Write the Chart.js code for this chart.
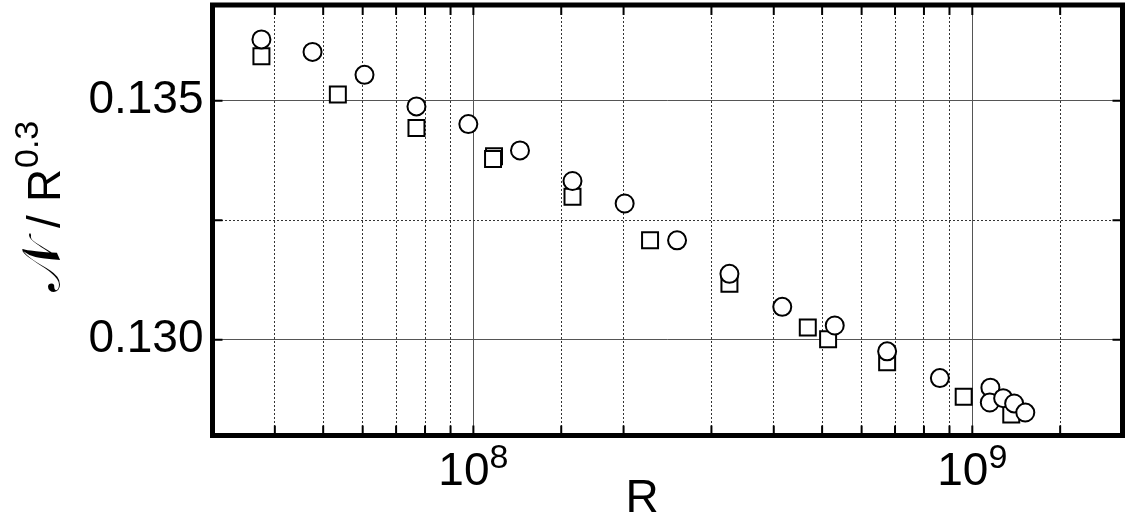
<!DOCTYPE html>
<html>
<head>
<meta charset="utf-8">
<title>N / R^0.3 vs R</title>
<script src="https://cdn.jsdelivr.net/npm/chart.js@4.4.1/dist/chart.umd.min.js"></script>
<style>
  html, body { margin: 0; padding: 0; background: #ffffff; }
  #wrap { width: 1127px; height: 518px; position: relative; }
</style>
</head>
<body>
<div id="wrap"><canvas id="chart-nusselt"></canvas></div>
<script>
/* ═══════════════════════════════════════════════════════════
   Compensated Nusselt number  N / R^0.3  against R (log axis)
   Two runs: open circles and open squares.
   ═══════════════════════════════════════════════════════════ */

// ─── DATA ────────────────────────────────────────────────
var circleR = [3.76e7, 4.76e7, 6.05e7, 7.69e7, 9.77e7, 1.24e8, 1.58e8, 2.01e8, 2.56e8,
               3.26e8, 4.16e8, 5.30e8, 6.75e8, 8.61e8, 1.087e9, 1.084e9, 1.153e9, 1.213e9, 1.277e9];
var circleN = [0.13628, 0.13602, 0.13554, 0.13488, 0.13451, 0.13396, 0.13332, 0.13285, 0.13208,
               0.13138, 0.13069, 0.13030, 0.12976, 0.12920, 0.12900, 0.12869, 0.12878, 0.12867, 0.12848];

var squareR = [3.76e7, 5.35e7, 7.69e7, 1.10e8, 1.095e8, 1.58e8, 2.26e8, 3.26e8, 4.68e8,
               5.14e8, 6.75e8, 9.61e8, 1.197e9];
var squareN = [0.13593, 0.13513, 0.13443, 0.13384, 0.13378, 0.13299, 0.13208, 0.13117, 0.13026,
               0.13001, 0.12953, 0.12881, 0.12844];

var xRange = [3e7, 2e9];
var yRange = [0.128, 0.137];
var yStep = 0.0025;
var yLabels = [{ value: 0.130, text: '0.130' }, { value: 0.135, text: '0.135' }];
var xLabels = [{ value: 1e8, base: '10', exp: '8' }, { value: 1e9, base: '10', exp: '9' }];

var FONT = '"Liberation Sans", Arial, Helvetica, sans-serif';

function toPoints(xs, ys) {
  return xs.map(function(x, i) { return { x: x, y: ys[i] }; });
}

function isMajorX(v) {
  var l = Math.log10(v);
  return Math.abs(l - Math.round(l)) < 1e-6;
}

function isMajorY(v) {
  return Math.abs(v / 0.005 - Math.round(v / 0.005)) < 1e-6;
}

// ─── FRAME, INNER TICKS AND TEXT ─────────────────────────
var framePlugin = {
  id: 'frame',
  afterDraw: function(chart) {
    var ctx = chart.ctx;
    var a = chart.chartArea;
    var xs = chart.scales.x;
    var ys = chart.scales.y;
    ctx.save();

    // inner tick marks on all four sides
    ctx.strokeStyle = '#000';
    ctx.lineWidth = 2;
    ctx.beginPath();
    xs.ticks.forEach(function(t) {
      var px = xs.getPixelForValue(t.value);
      if (px < a.left + 3 || px > a.right - 3) return;
      ctx.moveTo(px, a.bottom);
      ctx.lineTo(px, a.bottom - 10);
      ctx.moveTo(px, a.top);
      ctx.lineTo(px, a.top + 10);
    });
    ys.ticks.forEach(function(t) {
      var py = ys.getPixelForValue(t.value);
      if (py < a.top + 3 || py > a.bottom - 3) return;
      ctx.moveTo(a.left, py);
      ctx.lineTo(a.left + 10, py);
      ctx.moveTo(a.right, py);
      ctx.lineTo(a.right - 10, py);
    });
    ctx.stroke();

    // heavy frame
    ctx.lineWidth = 5;
    ctx.strokeRect(a.left, a.top, a.right - a.left, a.bottom - a.top);

    ctx.fillStyle = '#000';
    ctx.textBaseline = 'alphabetic';

    // y tick labels
    ctx.font = '46px ' + FONT;
    ctx.textAlign = 'right';
    yLabels.forEach(function(lb) {
      ctx.fillText(lb.text, a.left - 9, ys.getPixelForValue(lb.value) + 12);
    });

    // x tick labels with exponents
    xLabels.forEach(function(lb) {
      var px = xs.getPixelForValue(lb.value);
      ctx.font = '46px ' + FONT;
      var wb = ctx.measureText(lb.base).width;
      ctx.font = '34px ' + FONT;
      var we = ctx.measureText(lb.exp).width;
      var x0 = px - (wb + we) / 2;
      ctx.font = '46px ' + FONT;
      ctx.textAlign = 'left';
      ctx.fillText(lb.base, x0, 485);
      ctx.font = '34px ' + FONT;
      ctx.fillText(lb.exp, x0 + wb, 468);
    });

    // x axis title
    ctx.font = '46px ' + FONT;
    ctx.textAlign = 'center';
    ctx.fillText('R', 642, 512);

    // y axis title, rotated
    ctx.translate(60, 292);
    ctx.rotate(-Math.PI / 2);
    ctx.textAlign = 'left';
    ctx.font = '54px "DejaVu Serif", "DejaVu Sans", serif';
    ctx.fillText('\uD835\uDCA9', 0, 0);
    ctx.font = '46px ' + FONT;
    ctx.fillText('/', 64, 0);
    ctx.fillText('R', 90, 0);
    ctx.font = '34px ' + FONT;
    ctx.fillText('0.3', 124, -22);

    ctx.restore();
  }
};

// ─── CHART ───────────────────────────────────────────────
new Chart(document.getElementById('chart-nusselt'), {
  type: 'scatter',
  data: {
    datasets: [
      {
        label: 'circles',
        data: toPoints(circleR, circleN),
        pointStyle: 'circle',
        pointRadius: 9,
        pointHoverRadius: 9,
        borderWidth: 2,
        borderColor: '#000',
        backgroundColor: '#fff'
      },
      {
        label: 'squares',
        data: toPoints(squareR, squareN),
        pointStyle: 'rect',
        pointRadius: 11.3,
        pointHoverRadius: 11.3,
        borderWidth: 2,
        borderColor: '#000',
        backgroundColor: '#fff'
      }
    ]
  },
  options: {
    responsive: true,
    maintainAspectRatio: false,
    animation: false,
    events: [],
    layout: { autoPadding: false, padding: { left: 0, right: 4.5, top: 5, bottom: 0 } },
    plugins: {
      legend: { display: false },
      tooltip: { enabled: false }
    },
    scales: {
      x: {
        type: 'logarithmic',
        min: xRange[0],
        max: xRange[1],
        border: {
          display: false,
          dash: function(c) { return c.tick && isMajorX(c.tick.value) ? [] : [2, 2]; }
        },
        grid: {
          drawTicks: false,
          lineWidth: 1,
          color: function(c) { return c.tick && isMajorX(c.tick.value) ? '#555' : '#333'; }
        },
        ticks: { display: false },
        afterFit: function(s) { s.height = 82.5; }
      },
      y: {
        min: yRange[0],
        max: yRange[1],
        border: {
          display: false,
          dash: function(c) { return c.tick && isMajorY(c.tick.value) ? [] : [2, 2]; }
        },
        grid: {
          drawTicks: false,
          lineWidth: 1,
          color: function(c) { return c.tick && isMajorY(c.tick.value) ? '#555' : '#333'; }
        },
        ticks: {
          display: false,
          stepSize: yStep,
          includeBounds: false
        },
        afterFit: function(s) { s.width = 212.5; }
      }
    }
  },
  plugins: [framePlugin]
});
</script>
</body>
</html>
